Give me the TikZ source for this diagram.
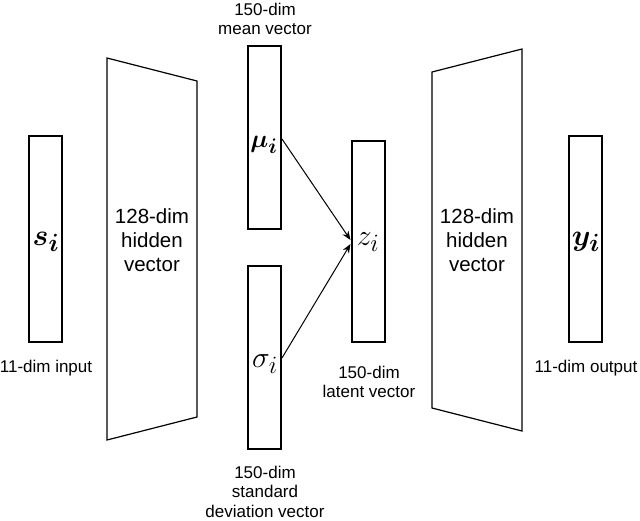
\documentclass[tikz,border=0pt]{standalone}
\usepackage{amsmath,amssymb}
\usepackage{fontspec}
\setmainfont{Liberation Sans}
\usetikzlibrary{arrows.meta}

\begin{document}
\begin{tikzpicture}[x=1pt, y=-1pt, every node/.style={inner sep=0pt, align=center},
	vecbox/.style={draw, line width=2pt, minimum width=33pt},
	hid/.style={font=\fontsize{20.5}{24}\selectfont},
	lbl/.style={font=\fontsize{17}{19.5}\selectfont},
	sym/.style={font=\fontsize{24.88}{25}\selectfont, scale=1.2}]
	\useasboundingbox (0,0) rectangle (640,520);
	% vectors
	\node[vecbox, minimum height=206pt] (s) at (45,239) {};
	\node[vecbox, minimum height=183pt] (mu) at (264.5,137.5) {};
	\node[vecbox, minimum height=183pt] (sigma) at (264.5,357.5) {};
	\node[vecbox, minimum height=201pt] (z) at (368,241.5) {};
	\node[vecbox, minimum height=206pt] (y) at (585.5,239) {};
	\node[sym] (stxt) at (46,242) {$\boldsymbol{s_i}$};
	\node[sym, scale=0.85] (mutxt) at (264,145) {$\boldsymbol{\mu_i}$};
	\node[sym] (sigmatxt) at (265,364) {$\sigma_i$};
	\node[sym] (ztxt) at (368,242) {$z_i$};
	\node[sym] (ytxt) at (586,242) {$\boldsymbol{y_i}$};
	% encoder / decoder
	\draw[line width=1.2pt] (107,58) -- (197,81) -- (197,417) -- (107,440) -- cycle;
	\draw[line width=1.2pt] (432,72) -- (522,49) -- (522,431) -- (432,408) -- cycle;
	\node[hid, anchor=north] (enc) at (152,208) {128-dim\\hidden\\vector};
	\node[hid, anchor=north] (dec) at (477,208) {128-dim\\hidden\\vector};
	% sampling
	\draw[-{Stealth[length=9pt,width=7pt]}, line width=1pt] ([yshift=-1.5pt]mu.east) -- ([yshift=1.5pt]z.west);
	\draw[-{Stealth[length=9pt,width=7pt]}, line width=1pt] ([yshift=-0.5pt]sigma.east) -- ([yshift=-2.5pt]z.west);
	% labels
	\node[lbl, anchor=north] (mulbl) at (265,2.6) {150-dim\\mean vector};
	\node[lbl, anchor=north] (sigmalbl) at (265,465.6) {150-dim\\standard\\deviation vector};
	\node[lbl, anchor=north] (zlbl) at (369,365.6) {150-dim\\latent vector};
	\node[lbl, anchor=base] (slbl) at (46,372) {11-dim input};
	\node[lbl, anchor=base] (ylbl) at (586,372) {11-dim output};
\end{tikzpicture}
\end{document}
